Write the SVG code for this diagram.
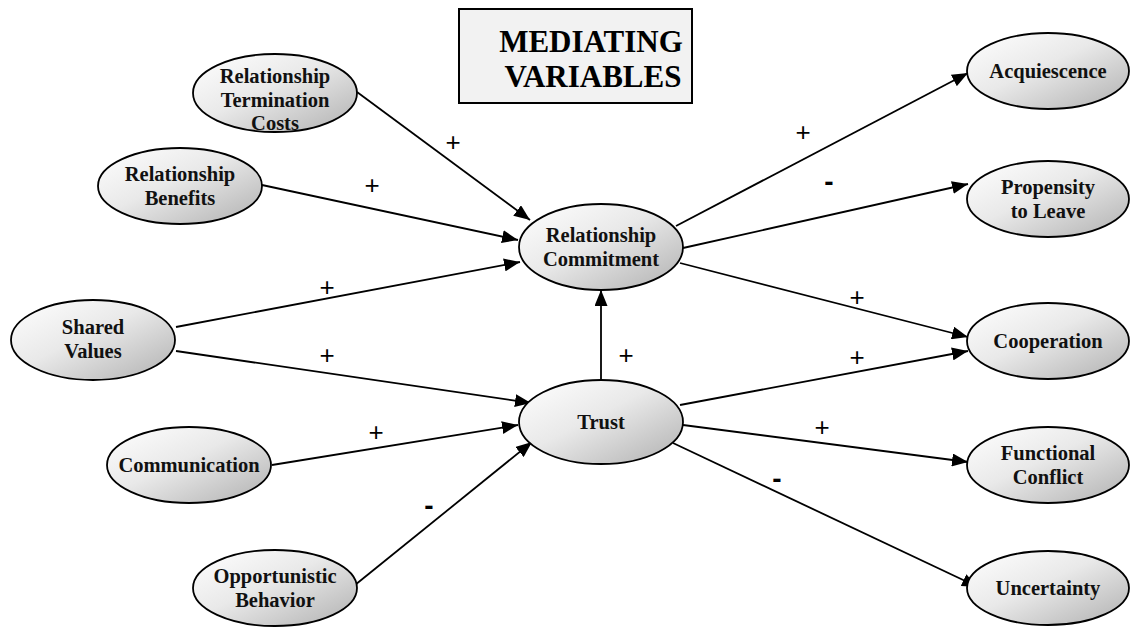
<svg xmlns="http://www.w3.org/2000/svg" width="1133" height="630" viewBox="0 0 1133 630">
<defs>
<linearGradient id="g" x1="0" y1="0" x2="1" y2="1">
<stop offset="0" stop-color="#ffffff"/>
<stop offset="0.45" stop-color="#e9e9e9"/>
<stop offset="1" stop-color="#b0b0b0"/>
</linearGradient>
<marker id="ah" markerUnits="userSpaceOnUse" markerWidth="17" markerHeight="13" refX="16" refY="6.5" orient="auto">
<path d="M0,0 L16,6.5 L0,13 z" fill="#000"/>
</marker>
<style>
.n ellipse{fill:url(#g);stroke:#000;stroke-width:1.8}
.n text{font-family:"Liberation Serif","Times New Roman",serif;font-weight:bold;font-size:20.5px;text-anchor:middle;fill:#111}
.c line{stroke:#000;stroke-width:1.8;marker-end:url(#ah)}
.l{font-family:"Liberation Sans",Arial,sans-serif;font-size:26px;text-anchor:middle;fill:#000}
.m{font-family:"Liberation Sans",Arial,sans-serif;font-size:28px;font-weight:bold;text-anchor:middle;fill:#000}
.t{font-family:"Liberation Serif","Times New Roman",serif;font-weight:bold;font-size:31px;text-anchor:middle;fill:#000}
</style>
</defs>
<rect width="1133" height="630" fill="#fff"/>

<g id="title">
<rect x="459" y="9" width="233" height="94" fill="#f2f2f2" stroke="#000" stroke-width="2"/>
<text class="t" x="591" y="52" font-family="Liberation Serif, Times New Roman, serif">MEDIATING</text>
<text class="t" x="593" y="87" font-family="Liberation Serif, Times New Roman, serif">VARIABLES</text>
</g>

<g class="c" id="connectors">
<line x1="357" y1="92" x2="530" y2="220"/>
<line x1="262" y1="185" x2="518" y2="240"/>
<line x1="176" y1="327" x2="520" y2="262"/>
<line x1="176" y1="351" x2="531" y2="403"/>
<line x1="272" y1="465" x2="518" y2="425"/>
<line x1="355" y1="585" x2="532" y2="442"/>
<line x1="601" y1="380" x2="601" y2="290"/>
<line x1="676" y1="226" x2="968" y2="73"/>
<line x1="683" y1="248" x2="968" y2="184"/>
<line x1="680" y1="263" x2="968" y2="337"/>
<line x1="680" y1="405" x2="968" y2="351"/>
<line x1="683" y1="425" x2="968" y2="462"/>
<line x1="673" y1="443" x2="978" y2="587"/>
</g>

<g id="labels">
<text class="l" x="453" y="151">+</text>
<text class="l" x="372" y="194">+</text>
<text class="l" x="327" y="296">+</text>
<text class="l" x="327" y="364">+</text>
<text class="l" x="626" y="364">+</text>
<text class="l" x="376" y="441">+</text>
<text class="m" x="429" y="515">-</text>
<text class="l" x="803" y="141">+</text>
<text class="m" x="829" y="191">-</text>
<text class="l" x="857" y="306">+</text>
<text class="l" x="857" y="366">+</text>
<text class="l" x="822" y="436">+</text>
<text class="m" x="777" y="488">-</text>
</g>

<g class="n" id="n-rtc"><ellipse cx="275" cy="93" rx="82" ry="39"/>
<text x="275" y="83">Relationship</text><text x="275" y="106.5">Termination</text><text x="275" y="130">Costs</text></g>
<g class="n" id="n-rb"><ellipse cx="180" cy="186" rx="82" ry="38"/>
<text x="180" y="181">Relationship</text><text x="180" y="204.5">Benefits</text></g>
<g class="n" id="n-sv"><ellipse cx="93" cy="340" rx="82" ry="40"/>
<text x="93" y="334">Shared</text><text x="93" y="357.5">Values</text></g>
<g class="n" id="n-comm"><ellipse cx="189" cy="465" rx="82" ry="38"/>
<text x="189" y="472">Communication</text></g>
<g class="n" id="n-ob"><ellipse cx="275" cy="588" rx="82" ry="38"/>
<text x="275" y="583">Opportunistic</text><text x="275" y="606.5">Behavior</text></g>
<g class="n" id="n-rc"><ellipse cx="601" cy="247" rx="82" ry="43"/>
<text x="601" y="242">Relationship</text><text x="601" y="265.5">Commitment</text></g>
<g class="n" id="n-trust"><ellipse cx="601" cy="422" rx="82" ry="42"/>
<text x="601" y="429">Trust</text></g>
<g class="n" id="n-acq"><ellipse cx="1048" cy="71" rx="81" ry="38"/>
<text x="1048" y="78">Acquiescence</text></g>
<g class="n" id="n-prop"><ellipse cx="1048" cy="199" rx="81" ry="38"/>
<text x="1048" y="194">Propensity</text><text x="1048" y="217.5">to Leave</text></g>
<g class="n" id="n-coop"><ellipse cx="1048" cy="341" rx="81" ry="38"/>
<text x="1048" y="348">Cooperation</text></g>
<g class="n" id="n-fc"><ellipse cx="1048" cy="465" rx="81" ry="38"/>
<text x="1048" y="460">Functional</text><text x="1048" y="483.5">Conflict</text></g>
<g class="n" id="n-unc"><ellipse cx="1048" cy="588" rx="81" ry="37"/>
<text x="1048" y="595">Uncertainty</text></g>
</svg>
